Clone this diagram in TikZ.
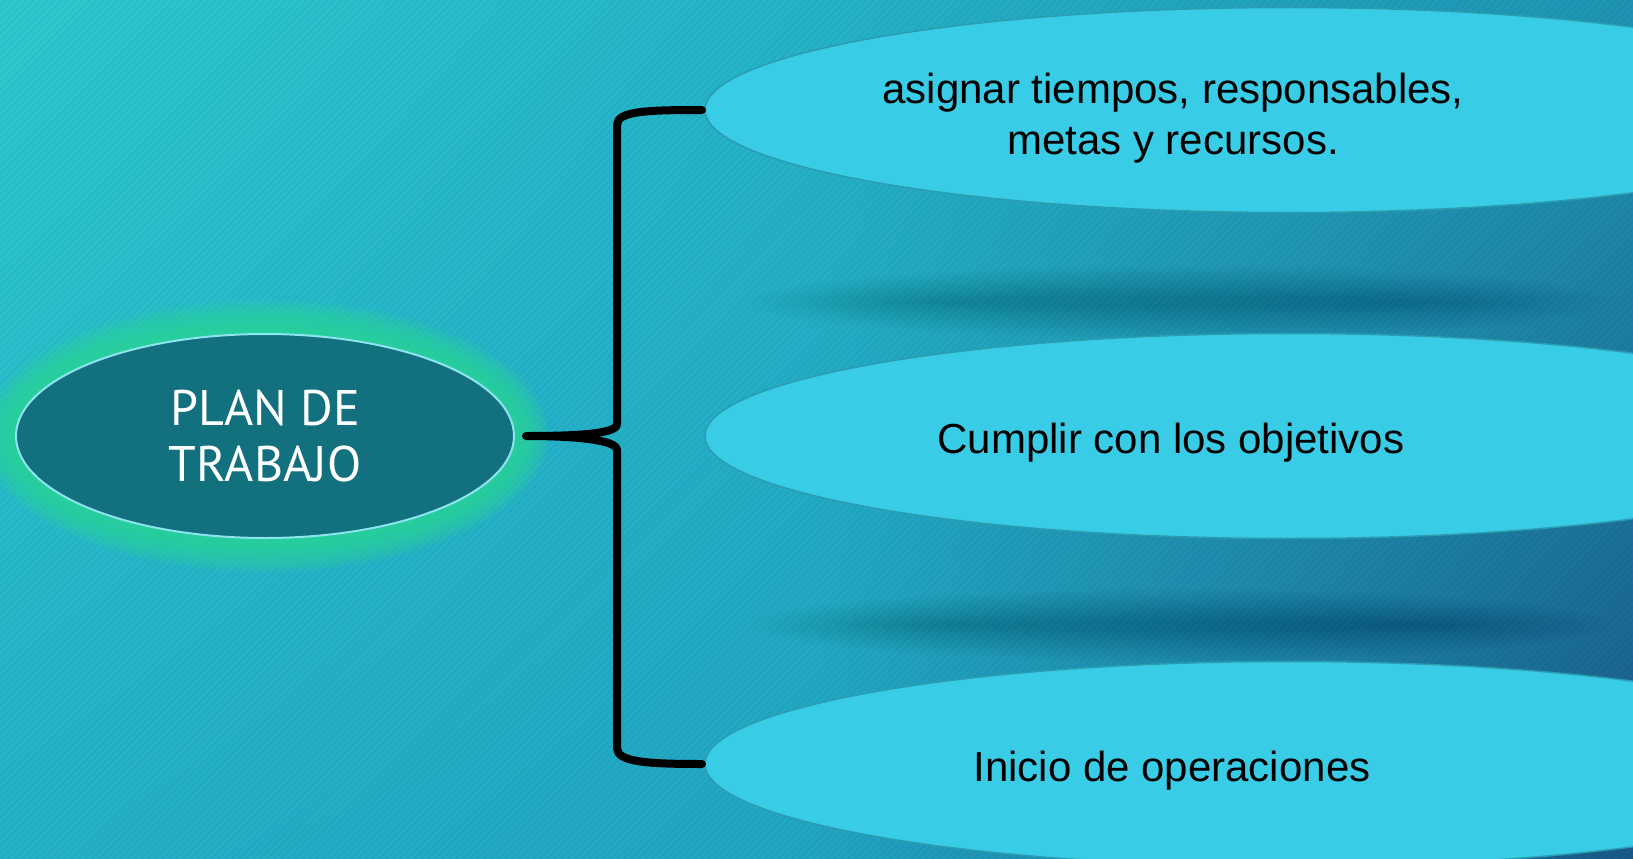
\documentclass[tikz,border=0pt]{standalone}
\usepackage{fontspec}
\setmainfont{Liberation Sans}
\newfontfamily\planfont{PT Sans}
\usetikzlibrary{shapes.geometric,shadings}

\definecolor{bgTL}{HTML}{2DCBD0}
\definecolor{bgTM}{HTML}{25B5CA}
\definecolor{bgTR}{HTML}{1F95B5}
\definecolor{bgBL}{HTML}{24B3C9}
\definecolor{bgBM}{HTML}{22A6C4}
\definecolor{bgBR}{HTML}{195A88}
\definecolor{ovalFill}{HTML}{38CCE6}
\definecolor{ovalLine}{HTML}{2B9DB2}
\definecolor{planFill}{HTML}{12707F}
\definecolor{planLine}{HTML}{8EE3F0}
\definecolor{glowGreen}{HTML}{2ED896}

\newcommand{\PicW}{1633}
\newcommand{\PicH}{859}
\newcommand{\PicM}{816}
\newcommand{\OvalW}{1168}
\newcommand{\OvalH}{205}
\newcommand{\OvalX}{1289}
\newcommand{\TextX}{1173}
\newcommand{\BraceX}{617}
\newcommand{\drawShadow}[1]{
    \foreach \s in {0,...,15}
        \fill[black, opacity=0.013] (#1) ellipse ({430-12*\s} and {36-2*\s});
}
\newcommand{\drawGlow}[1]{
    \foreach \g in {1,...,14}
        \fill[glowGreen, opacity=0.12] (#1) ellipse ({247+2.6*\g} and {100+2.6*\g});
}

\begin{document}
\begin{tikzpicture}[x=1pt, y=-1pt,
    oval/.style={ellipse, draw=ovalLine, line width=1.5pt, fill=ovalFill,
        minimum width=\OvalW pt, minimum height=\OvalH pt, inner sep=0pt, outer sep=0pt},
    ovaltext/.style={font=\fontsize{42}{50.4}\selectfont, align=center, text=black, inner sep=0pt},
    brace/.style={line width=8pt, line cap=round, line join=round}]

    \useasboundingbox (0,0) rectangle (\PicW,\PicH);
    \clip (0,0) rectangle (\PicW,\PicH);

    % background with fine stripes
    \shade[upper left=bgTL, upper right=bgTM, lower left=bgBL, lower right=bgBM]
        (0,0) rectangle (\PicM,\PicH);
    \shade[upper left=bgTM, upper right=bgTR, lower left=bgBM, lower right=bgBR]
        (\PicM,0) rectangle (\PicW,\PicH);
    \foreach \s in {-860,-853,...,1640}
        \draw[black, opacity=0.04, line width=2.5pt] (\s,\PicH) -- ++(\PicH,-\PicH);

    \drawShadow{1180,302}
    \drawShadow{1180,625}

    \drawGlow{265,436}
    \node[ellipse, draw=planLine, line width=2pt, fill=planFill,
        minimum width=498pt, minimum height=204pt, outer sep=0pt,
        text=white, font=\planfont\fontsize{50}{56}\selectfont, align=center]
        (plan) at (265,436) {PLAN DE\\TRABAJO};

    \node[oval] (tiempos) at (\OvalX,110) {};
    \node[oval] (objetivos) at (\OvalX,436) {};
    \node[oval] (operaciones) at (\OvalX,764) {};

    \node[ovaltext] (tiemposTxt) at (\TextX,118) {asignar tiempos, responsables,\\metas y recursos.};
    \node[ovaltext, anchor=base] (objetivosTxt) at (1171,453) {Cumplir con los objetivos};
    \node[ovaltext, anchor=base] (operacionesTxt) at (1172,781) {Inicio de operaciones};

    \coordinate (tip) at ([xshift=12pt]plan.east);
    \draw[brace] ([xshift=-3pt]tiempos.west) .. controls ++(-55,0) and ++(0,-14) .. (\BraceX,125)
        -- (\BraceX,424) .. controls ++(0,10) and ++(50,0) .. (tip)
        .. controls ++(50,0) and ++(0,-10) .. (\BraceX,450)
        -- (\BraceX,748) .. controls ++(0,14) and ++(-55,0) .. ([xshift=-3pt]operaciones.west);
\end{tikzpicture}
\end{document}
